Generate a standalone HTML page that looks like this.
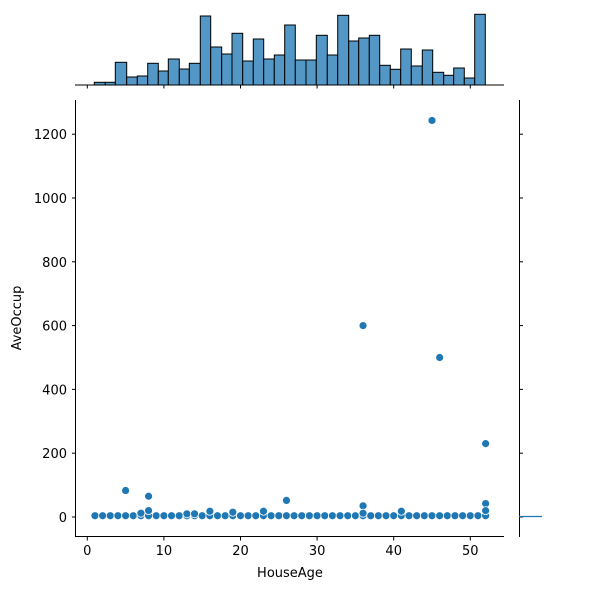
<!DOCTYPE html>
<html><head><style>body{margin:0;background:#fff}svg{display:block}text{font-family:"DejaVu Sans","Liberation Sans",sans-serif;font-size:13px;fill:#000}</style></head>
<body>
<svg width="603" height="590" viewBox="0 0 603 590">
<g fill="#5297c6" stroke="#000" stroke-width="1" id="hist"></g>
<g stroke="#000" stroke-width="1" fill="none">
<line x1="75" y1="85" x2="504" y2="85"/>
<line x1="75.5" y1="100" x2="75.5" y2="537"/>
<line x1="75" y1="536.5" x2="504" y2="536.5"/>
<line x1="519.5" y1="100" x2="519.5" y2="537"/>
</g>
<g id="ticks" stroke="#000" stroke-width="1"></g>
<g id="labels"></g>
<line x1="519" y1="516.5" x2="542" y2="516.5" stroke="#1f77b4" stroke-width="1.2"/>
<g id="pts" fill="#1f77b4" stroke="#fff" stroke-width="0.8"></g>
<text x="290" y="577" text-anchor="middle">HouseAge</text>
<text transform="translate(21,318) rotate(-90)" text-anchor="middle">AveOccup</text>
</svg>
<script>
var ns="http://www.w3.org/2000/svg";
function el(p,t,a,txt){var e=document.createElementNS(ns,t);for(var k in a)e.setAttribute(k,a[k]);if(txt!==undefined)e.textContent=txt;document.getElementById(p).appendChild(e);}
var edges=[94.3,105.3,115.3,126.7,137.3,147.7,158.3,168.3,179.3,189.3,200.3,210.7,221.7,232,242.7,253.3,263.7,274.3,284.7,295.3,306,316.3,327.3,337.7,348.7,358.7,369.3,379.7,390.3,400.7,411.3,422.3,432.7,443.7,453.7,464.3,474.7,485.3];
var tops=[82.3,82.3,62.3,77,76,63.3,71,59,69,63.3,16,47,54,33.3,61,39,59,55,25,60,60,35.3,55,15.3,41,38,35.3,65.3,69.3,49,66,50,72.3,75.3,68,78,14.3];
for(var i=0;i<tops.length;i++)el("hist","rect",{x:edges[i],y:tops[i],width:edges[i+1]-edges[i],height:85-tops[i]});
function X(v){return 87.3+v*7.66}function Y(v){return 517-v*0.319}
for(var v=0;v<=50;v+=10){var x=X(v);el("ticks","line",{x1:x,y1:537,x2:x,y2:540.5});el("ticks","line",{x1:x,y1:85,x2:x,y2:88.5});el("labels","text",{x:x,y:555,"text-anchor":"middle"},v);}
for(var v=0;v<=1200;v+=200){var y=Y(v);el("ticks","line",{x1:72,y1:y,x2:75.5,y2:y});el("ticks","line",{x1:519.5,y1:y,x2:523,y2:y});el("labels","text",{x:67,y:y+5,"text-anchor":"end"},v);}
var pts=[];
for(var a=1;a<=52;a++){pts.push([a,4]);}
pts=pts.concat([[5,83],[8,65],[8,20],[7,12],[16,18],[19,15],[23,18],[13,10],[14,10],[26,52],[36,35],[36,12],[41,18],[52,42],[52,20],[52,230],[45,1243],[36,600],[46,500]]);
pts.forEach(function(p){el("pts","circle",{cx:X(p[0]),cy:Y(p[1]),r:4});});
</script>
</body></html>
